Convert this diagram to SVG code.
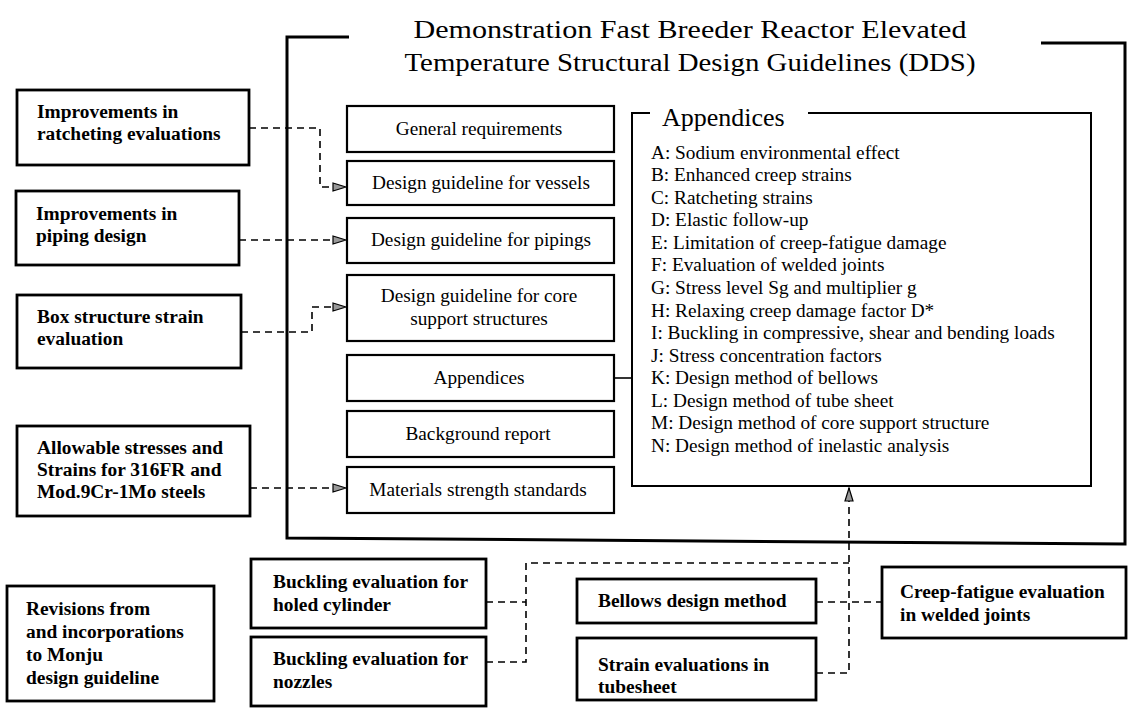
<svg xmlns="http://www.w3.org/2000/svg" width="1148" height="713" viewBox="0 0 1148 713">
<defs>
<style>
.t{font-family:"Liberation Serif","Times New Roman",serif;font-size:19.3px;fill:#000}
.b{font-weight:bold;font-size:19.4px}
.c{text-anchor:middle}
.box{fill:#fff;stroke:#000;stroke-width:2.2}
.bb{fill:#fff;stroke:#000;stroke-width:2.8}
.dash{fill:none;stroke:#000;stroke-width:1.6;stroke-dasharray:7 5}
.solid{fill:none;stroke:#000;stroke-width:1.6}
.frame{fill:none;stroke:#000;stroke-width:3}
</style>
<marker id="arr" markerUnits="userSpaceOnUse" markerWidth="15" markerHeight="11" refX="14" refY="5.5" orient="auto">
<path d="M1,1.5 L14,5.5 L1,9.5 Z" fill="#999" stroke="#000" stroke-width="1.2"/>
</marker>
</defs>
<rect width="1148" height="713" fill="#fff"/>

<g id="title">
<text class="t c" x="690" y="38" style="font-size:26px" textLength="553" lengthAdjust="spacingAndGlyphs">Demonstration Fast Breeder Reactor Elevated</text>
<text class="t c" x="690" y="71" style="font-size:26px" textLength="571" lengthAdjust="spacingAndGlyphs">Temperature Structural Design Guidelines (DDS)</text>
</g>
<path id="dds-frame" class="frame" d="M349,37 H287 V538 L1125,544 V43 H1041"/>

<g id="connectors">
<path class="dash" d="M249,128 H320 V187 H346" marker-end="url(#arr)"/>
<path class="dash" d="M239,240 H346" marker-end="url(#arr)"/>
<path class="dash" d="M241,332 H312 V307 H346" marker-end="url(#arr)"/>
<path class="dash" d="M250,488 H346" marker-end="url(#arr)"/>
<path class="solid" d="M614,378 H632"/>
<path class="dash" d="M486,602 H526"/>
<path class="dash" d="M486,662 H526 V563 H849"/>
<path class="dash" d="M816,602 H882"/>
<path class="dash" d="M816,673 H849 V488" marker-end="url(#arr)"/>
</g>

<g id="n-ratcheting">
<rect class="bb" x="17" y="90" width="232" height="75"/>
<text class="t b" x="37" y="118">Improvements in</text>
<text class="t b" x="37" y="140">ratcheting evaluations</text>
</g>
<g id="n-piping">
<rect class="bb" x="16" y="191" width="223" height="74"/>
<text class="t b" x="36" y="220">Improvements in</text>
<text class="t b" x="36" y="242">piping design</text>
</g>
<g id="n-box">
<rect class="bb" x="17" y="295" width="224" height="73"/>
<text class="t b" x="37" y="323">Box structure strain</text>
<text class="t b" x="37" y="345">evaluation</text>
</g>
<g id="n-allowable">
<rect class="bb" x="17" y="426" width="233" height="90"/>
<text class="t b" x="37" y="454">Allowable stresses and</text>
<text class="t b" x="37" y="476">Strains for 316FR and</text>
<text class="t b" x="37" y="498">Mod.9Cr-1Mo steels</text>
</g>
<g id="n-revisions">
<rect class="bb" x="7" y="586" width="207" height="115"/>
<text class="t b" x="26" y="615">Revisions from</text>
<text class="t b" x="26" y="638">and incorporations</text>
<text class="t b" x="26" y="661">to Monju</text>
<text class="t b" x="26" y="684">design guideline</text>
</g>

<g id="n-general">
<rect class="box" x="347" y="106" width="267" height="46"/>
<text class="t c" x="479" y="135">General requirements</text>
</g>
<g id="n-vessels">
<rect class="box" x="347" y="161" width="267" height="44"/>
<text class="t c" x="481" y="189">Design guideline for vessels</text>
</g>
<g id="n-pipings">
<rect class="box" x="347" y="218" width="267" height="45"/>
<text class="t c" x="481" y="246">Design guideline for pipings</text>
</g>
<g id="n-core">
<rect class="box" x="347" y="275" width="267" height="66"/>
<text class="t c" x="479" y="302">Design guideline for core</text>
<text class="t c" x="479" y="325">support structures</text>
</g>
<g id="n-appendices">
<rect class="box" x="347" y="355" width="267" height="46"/>
<text class="t c" x="479" y="384">Appendices</text>
</g>
<g id="n-background">
<rect class="box" x="347" y="411" width="267" height="46"/>
<text class="t c" x="478" y="440">Background report</text>
</g>
<g id="n-materials">
<rect class="box" x="347" y="467" width="267" height="46"/>
<text class="t c" x="478" y="496">Materials strength standards</text>
</g>

<g id="n-appendix-list">
<path fill="none" stroke="#000" stroke-width="2" d="M650,113 H632 V486 H1091 V113 H808"/>
<text class="t" x="662" y="126" style="font-size:26px">Appendices</text>
<text class="t" x="651" y="158.5">A: Sodium environmental effect</text>
<text class="t" x="651" y="181.1">B: Enhanced creep strains</text>
<text class="t" x="651" y="203.7">C: Ratcheting strains</text>
<text class="t" x="651" y="226.2">D: Elastic follow-up</text>
<text class="t" x="651" y="248.8">E: Limitation of creep-fatigue damage</text>
<text class="t" x="651" y="271.4">F: Evaluation of welded joints</text>
<text class="t" x="651" y="294">G: Stress level Sg and multiplier g</text>
<text class="t" x="651" y="316.6">H: Relaxing creep damage factor D*</text>
<text class="t" x="651" y="339.1">I: Buckling in compressive, shear and bending loads</text>
<text class="t" x="651" y="361.7">J: Stress concentration factors</text>
<text class="t" x="651" y="384.3">K: Design method of bellows</text>
<text class="t" x="651" y="406.9">L: Design method of tube sheet</text>
<text class="t" x="651" y="429.4">M: Design method of core support structure</text>
<text class="t" x="651" y="452">N: Design method of inelastic analysis</text>
</g>

<g id="n-holed">
<rect class="bb" x="251" y="559" width="235" height="69"/>
<text class="t b" x="273" y="588">Buckling evaluation for</text>
<text class="t b" x="273" y="611">holed cylinder</text>
</g>
<g id="n-nozzles">
<rect class="bb" x="251" y="637" width="235" height="69"/>
<text class="t b" x="273" y="665">Buckling evaluation for</text>
<text class="t b" x="273" y="688">nozzles</text>
</g>
<g id="n-bellows">
<rect class="bb" x="577" y="579" width="239" height="44"/>
<text class="t b" x="598" y="607">Bellows design method</text>
</g>
<g id="n-tubesheet">
<rect class="bb" x="577" y="638" width="239" height="62"/>
<text class="t b" x="598" y="671">Strain evaluations in</text>
<text class="t b" x="598" y="693">tubesheet</text>
</g>
<g id="n-creep">
<rect class="bb" x="882" y="567" width="244" height="71"/>
<text class="t b" x="900" y="598">Creep-fatigue evaluation</text>
<text class="t b" x="900" y="621">in welded joints</text>
</g>
</svg>
